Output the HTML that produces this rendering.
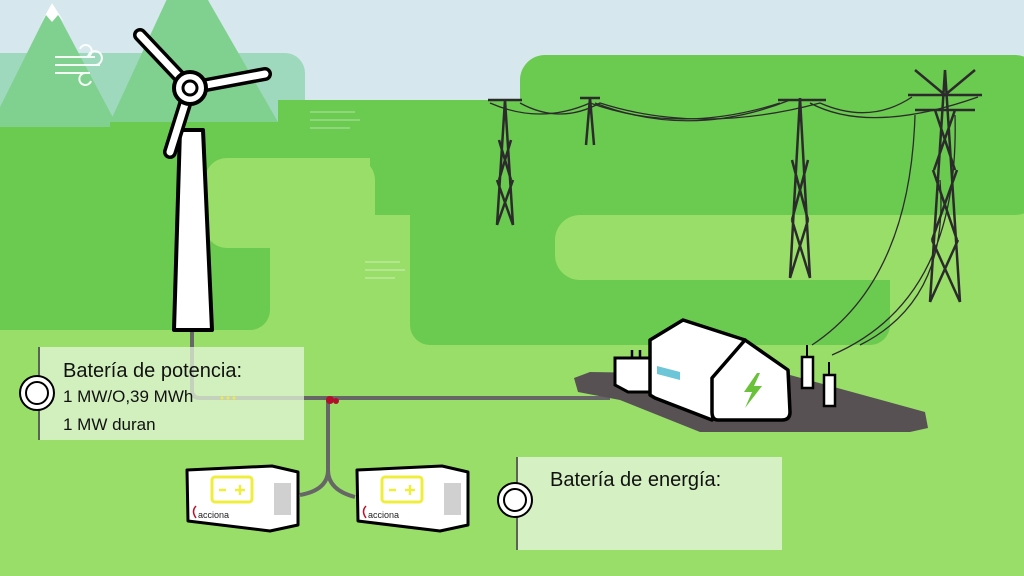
<!DOCTYPE html>
<html><head><meta charset="utf-8"><style>
html,body{margin:0;padding:0;width:1024px;height:576px;overflow:hidden;background:#d6e8ee}
svg{display:block}
text{font-family:"Liberation Sans",sans-serif}
</style></head><body>
<svg width="1024" height="576" viewBox="0 0 1024 576" xmlns="http://www.w3.org/2000/svg">
<rect width="1024" height="576" fill="#d6e8ee"/>
<!-- teal band -->
<rect x="-20" y="53" width="325" height="74" rx="20" fill="#9fd9bd"/>
<rect x="-20" y="100" width="300" height="27" fill="#9fd9bd"/>
<!-- mountains -->
<polygon points="52,3 -10,127 118,127" fill="#80d18f"/>
<polygon points="40,25 52,3 64,22 58,15 52,22 46,15" fill="#fff"/>
<polygon points="185,-40 110,122 278,122" fill="#80d18f"/>
<!-- light base -->
<rect x="0" y="127" width="1024" height="449" fill="#9ade6a"/>
<!-- dark green shapes -->
<rect x="-20" y="127" width="290" height="203" rx="20" fill="#6bca50"/>
<rect x="110" y="122" width="300" height="36" fill="#6bca50"/>
<rect x="278" y="100" width="320" height="58" fill="#6bca50"/>
<rect x="520" y="55" width="520" height="160" rx="25" fill="#6bca50"/>
<rect x="370" y="100" width="200" height="115" fill="#6bca50"/>
<rect x="410" y="150" width="480" height="195" rx="20" fill="#6bca50"/>
<!-- light overlays -->
<rect x="205" y="158" width="170" height="90" rx="22" fill="#9ade6a"/>
<rect x="270" y="215" width="135" height="75" rx="22" fill="#9ade6a"/>
<rect x="270" y="230" width="140" height="130" fill="#9ade6a"/>
<rect x="555" y="215" width="500" height="65" rx="25" fill="#9ade6a"/>
<!-- wind symbols -->
<g fill="none" stroke="#fff" stroke-width="2" opacity="0.9">
<path d="M55,57 H95 M55,65 H100 M55,73 H90 M80,49 a6,6 0 1 1 6,8 M88,57 a7,7 0 1 1 8,8 M85,73 a6,6 0 1 0 6,8"/>
</g>
<g fill="none" stroke="#fff" stroke-width="2" opacity="0.25">
<path d="M310,112 H355 M310,120 H360 M310,128 H350"/>
<path d="M365,262 H400 M365,270 H405 M365,278 H395"/>
</g>
<!-- pylons and wires -->
<g fill="none" stroke="#2b2b2b" stroke-width="2.5">
<path d="M505,100 L497,225 M505,100 L513,225 M497,225 L513,180 M513,225 L497,180 M499,180 L511,140 M511,180 L499,140 M488,100 H522"/>
<path d="M590,98 L586,145 M590,98 L594,145 M580,98 H600"/>
<path d="M800,98 L790,278 M800,98 L810,278 M790,278 L808,220 M810,278 L792,220 M792,220 L808,160 M808,220 L792,160 M778,100 H826"/>
<path d="M945,70 L930,302 M945,70 L960,302 M930,302 L958,240 M960,302 L932,240 M932,240 L957,170 M957,240 L933,170 M934,170 L955,110 M955,170 L935,110 M908,95 H982 M915,110 H975 M915,70 L945,95 L975,70"/>
</g>
<g fill="none" stroke="#2b2b2b" stroke-width="1.3">
<path d="M490,103 Q540,125 590,103 Q680,135 780,103"/>
<path d="M520,103 Q560,125 600,103 Q700,135 820,103 Q870,125 912,97"/>
<path d="M595,103 Q690,140 790,100 M810,103 Q870,135 978,97"/>
<path d="M915,115 Q910,280 812,345 M955,115 Q960,300 832,355 M940,180 Q950,300 860,345"/>
</g>
<!-- cables -->
<g fill="none" stroke="#666" stroke-width="4">
<path d="M192,320 V390 Q192,398 200,398 H610"/>
<path d="M328,398 V470 Q328,490 300,495"/>
<path d="M328,470 Q328,490 355,497"/>
</g>
<circle cx="330" cy="400" r="4" fill="#b0102a"/><circle cx="336" cy="401" r="3" fill="#b0102a"/>
<!-- windmill -->
<polygon points="174,330 212,330 203,130 180,130" fill="#fff" stroke="#000" stroke-width="4" stroke-linejoin="round"/>
<g stroke="#000" stroke-width="14" stroke-linecap="round"><line x1="190" y1="88" x2="140" y2="35"/><line x1="190" y1="88" x2="265" y2="74"/><line x1="190" y1="88" x2="170" y2="152"/></g>
<g stroke="#fff" stroke-width="7" stroke-linecap="round"><line x1="190" y1="88" x2="140" y2="35"/><line x1="190" y1="88" x2="265" y2="74"/><line x1="190" y1="88" x2="170" y2="152"/></g>
<circle cx="190" cy="88" r="16" fill="#fff" stroke="#000" stroke-width="4"/>
<circle cx="190" cy="88" r="7" fill="#fff" stroke="#000" stroke-width="3"/>
<!-- substation -->
<polygon points="590,372 790,375 925,412 928,428 910,432 700,432 620,400 578,392 574,378" fill="#575153"/>
<path d="M615,358 H650 V392 H628 L615,385 Z" fill="#fff" stroke="#000" stroke-width="3"/>
<path d="M632,358 V350 M640,358 V350" stroke="#000" stroke-width="2.5"/>
<path d="M650,340 L683,320 L745,340 L712,420 L655,398 L650,395 Z" fill="#fff" stroke="#000" stroke-width="3.5" stroke-linejoin="round"/>
<path d="M712,378 L745,340 L788,370 L790,412 Q790,420 782,420 L718,420 Q712,420 712,412 Z" fill="#fff" stroke="#000" stroke-width="3.5" stroke-linejoin="round"/>
<polygon points="657,366 680,372 680,380 657,374" fill="#6cc6d8"/>
<polygon points="757,373 744,392 752,392 745,408 762,386 754,386 760,373" fill="#69c23a"/>
<rect x="802" y="357" width="11" height="31" fill="#fff" stroke="#000" stroke-width="2.5"/>
<rect x="824" y="375" width="11" height="31" fill="#fff" stroke="#000" stroke-width="2.5"/>
<path d="M807,357 V345 M829,375 V362" stroke="#000" stroke-width="2"/>
<!-- battery boxes -->
<g id="b1">
<path d="M187,470 L272,466 L298,472 L298,525 L270,531 L188,521 Z" fill="#fff" stroke="#000" stroke-width="3" stroke-linejoin="round"/>
<rect x="212" y="477" width="40" height="25" rx="3" fill="none" stroke="#f0ee3c" stroke-width="3"/>
<path d="M219,490 H226 M235,490 H245 M240,485 V495" stroke="#f0ee3c" stroke-width="2.5"/>
<rect x="274" y="483" width="17" height="32" fill="#d0d0d0"/>
<text x="198" y="518" font-size="9" fill="#222">acciona</text>
<path d="M196,506 q-5,5 0,12" fill="none" stroke="#c0102a" stroke-width="1.5"/>
</g>
<use href="#b1" x="170"/>
<!-- text box 1 -->
<rect x="38" y="347" width="266" height="93" fill="#e4f5da" opacity="0.75"/>
<line x1="39" y1="347" x2="39" y2="440" stroke="#333" stroke-width="1.5"/>
<circle cx="37" cy="393" r="17" fill="#fff" stroke="#000" stroke-width="2"/>
<circle cx="37" cy="393" r="11" fill="#fff" stroke="#000" stroke-width="2"/>
<text x="63" y="377" font-size="20" fill="#111">Batería de potencia:</text>
<text x="63" y="402" font-size="17" fill="#111">1 MW/O,39 MWh</text>
<text x="63" y="430" font-size="17" fill="#111">1 MW duran</text>
<circle cx="222" cy="398" r="1.5" fill="#f0ee3c"/><circle cx="228" cy="398" r="1.5" fill="#f0ee3c"/><circle cx="234" cy="398" r="1.5" fill="#f0ee3c"/>
<!-- text box 2 -->
<rect x="516" y="457" width="266" height="93" fill="#e4f5da" opacity="0.8"/>
<line x1="517" y1="457" x2="517" y2="550" stroke="#333" stroke-width="1.5"/>
<circle cx="515" cy="500" r="17" fill="#fff" stroke="#000" stroke-width="2"/>
<circle cx="515" cy="500" r="11" fill="#fff" stroke="#000" stroke-width="2"/>
<text x="550" y="486" font-size="20" fill="#111">Batería de energía:</text>
</svg>
</body></html>
